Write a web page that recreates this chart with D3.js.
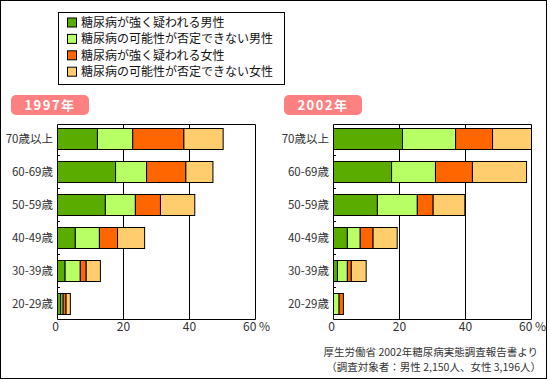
<!DOCTYPE html>
<html><head><meta charset="utf-8">
<script src="https://cdn.jsdelivr.net/npm/d3@7"></script>
<style>
body{margin:0;background:#fff;}
svg{display:block;font-family:"Noto Sans CJK JP","Noto Sans",sans-serif;}
</style></head>
<body><svg id="c" width="550" height="380"></svg>
<script>
const categories = ["70歳以上","60-69歳","50-59歳","40-49歳","30-39歳","20-29歳"];
const seriesNames = ["糖尿病が強く疑われる男性","糖尿病の可能性が否定できない男性","糖尿病が強く疑われる女性","糖尿病の可能性が否定できない女性"];
const seriesColors = ["#5aad00","#b8ff66","#ff6600","#ffcc6e"];
const years = ["1997年","2002年"];
const maleStrong1997 = [12.1, 17.6, 14.5, 5.4, 2.3, 1.0];
const maleSuspect1997 = [10.7, 9.4, 9.1, 7.3, 4.6, 0.7];
const femaleStrong1997 = [15.5, 11.9, 7.6, 5.5, 1.8, 0.9];
const femaleSuspect1997 = [11.9, 8.2, 10.4, 8.2, 4.3, 1.3];
const maleStrong2002 = [20.9, 17.6, 13.3, 4.2, 1.2, 0];
const maleSuspect2002 = [16.1, 13.3, 12.1, 3.9, 3.0, 1.7];
const femaleStrong2002 = [11.2, 11.2, 4.8, 3.9, 1.2, 1.3];
const femaleSuspect2002 = [11.8, 16.4, 9.6, 7.3, 4.5, 0];
const xTicks = [0, 20, 40, 60];
const xTickLabels = ["0","20","40","60 %"];
const sourceLines = ["厚生労働省 2002年糖尿病実態調査報告書より","（調査対象者：男性 2,150人、女性 3,196人）"];

const svg = d3.select("#c");
svg.append("rect").attr("x",0.5).attr("y",0.5).attr("width",546).attr("height",378)
  .attr("fill","#fff").attr("stroke","#000");

// legend
const lg = svg.append("g");
lg.append("rect").attr("x",58.5).attr("y",12.5).attr("width",226).attr("height",72)
  .attr("fill","#fff").attr("stroke","#000");
seriesNames.forEach((n,i)=>{
  const cy = 22.5 + i*16.4;
  lg.append("rect").attr("x",67.5).attr("y",cy-4.5).attr("width",9).attr("height",9)
    .attr("fill",seriesColors[i]).attr("stroke","#000");
  lg.append("text").attr("x",81).attr("y",cy).attr("dy","0.36em")
    .attr("font-size",12).attr("fill","#111").text(n);
});

const datasets = [
  [maleStrong1997, maleSuspect1997, femaleStrong1997, femaleSuspect1997],
  [maleStrong2002, maleSuspect2002, femaleStrong2002, femaleSuspect2002]
];
const panels = [
  {x0:57.5, x1:255.5, badgeX:11, labelRight:53},
  {x0:333.5, x1:531.5, badgeX:284, labelRight:329}
];

panels.forEach((p,pi)=>{
  const g = svg.append("g");
  const x = d3.scaleLinear().domain([0,60]).range([p.x0,p.x1]);
  const y = d3.scaleBand().domain(categories).range([122,320])
    .paddingInner(12/33).paddingOuter(6/33);
  // badge
  g.append("rect").attr("x",p.badgeX).attr("y",95).attr("width",78).attr("height",20)
    .attr("rx",5).attr("fill","#ff8080");
  g.append("text").attr("x",p.badgeX+39).attr("y",105).attr("dy","0.36em")
    .attr("text-anchor","middle").attr("font-size",13).attr("font-weight","bold")
    .attr("letter-spacing",1.5).attr("fill","#fff").text(years[pi]);
  // gridlines & frame (behind bars)
  const top = 124.5, bot = 319.5;
  xTicks.slice(1).forEach(t=>{
    g.append("line").attr("x1",x(t)).attr("x2",x(t)).attr("y1",top).attr("y2",bot)
      .attr("stroke","#000");
  });
  g.append("line").attr("x1",p.x0).attr("x2",p.x1).attr("y1",top).attr("y2",top).attr("stroke","#000");
  g.append("line").attr("x1",p.x0).attr("x2",p.x1).attr("y1",bot).attr("y2",bot).attr("stroke","#000");
  // bars
  const rows = categories.map((c,ci)=>{
    const o = {cat:c};
    datasets[pi].forEach((s,si)=>o["s"+si]=s[ci]);
    return o;
  });
  const stack = d3.stack().keys(["s0","s1","s2","s3"])(rows);
  stack.forEach((layer,li)=>{
    g.selectAll(null).data(layer.filter(d=>d[1]-d[0]>0)).join("rect")
      .attr("x",d=>x(d[0])).attr("width",d=>x(d[1])-x(d[0]))
      .attr("y",d=>y(d.data.cat)+0.5).attr("height",y.bandwidth())
      .attr("fill",seriesColors[li]).attr("stroke","#000");
  });
  g.append("line").attr("x1",p.x0).attr("x2",p.x0).attr("y1",top).attr("y2",bot).attr("stroke","#000");
  // inner ticks at band boundaries
  categories.slice(0,-1).forEach(c=>{
    const yy = Math.round(y(c)+y.bandwidth()+6)+0.5;
    g.append("line").attr("x1",p.x0).attr("x2",p.x0+2.5).attr("y1",yy).attr("y2",yy).attr("stroke","#000");
  });
  // x labels
  xTicks.forEach((t,i)=>{
    g.append("text").attr("x",x(t)+(i===0?-2:0)+(i===3?1:0)).attr("y",331)
      .attr("text-anchor","middle").attr("font-size",12).attr("fill","#333").text(xTickLabels[i]);
  });
  // y labels
  categories.forEach(c=>{
    g.append("text").attr("x",p.labelRight).attr("y",y(c)+y.bandwidth()/2+0.5).attr("dy","0.36em")
      .attr("text-anchor","end").attr("font-size",11.5).attr("fill","#333").text(c);
  });
});

sourceLines.forEach((s,i)=>{
  svg.append("text").attr("x",i===0?538:541).attr("y",356+i*14.5)
    .attr("text-anchor","end").attr("font-size",10.5).attr("fill","#333").text(s);
});
</script></body></html>
